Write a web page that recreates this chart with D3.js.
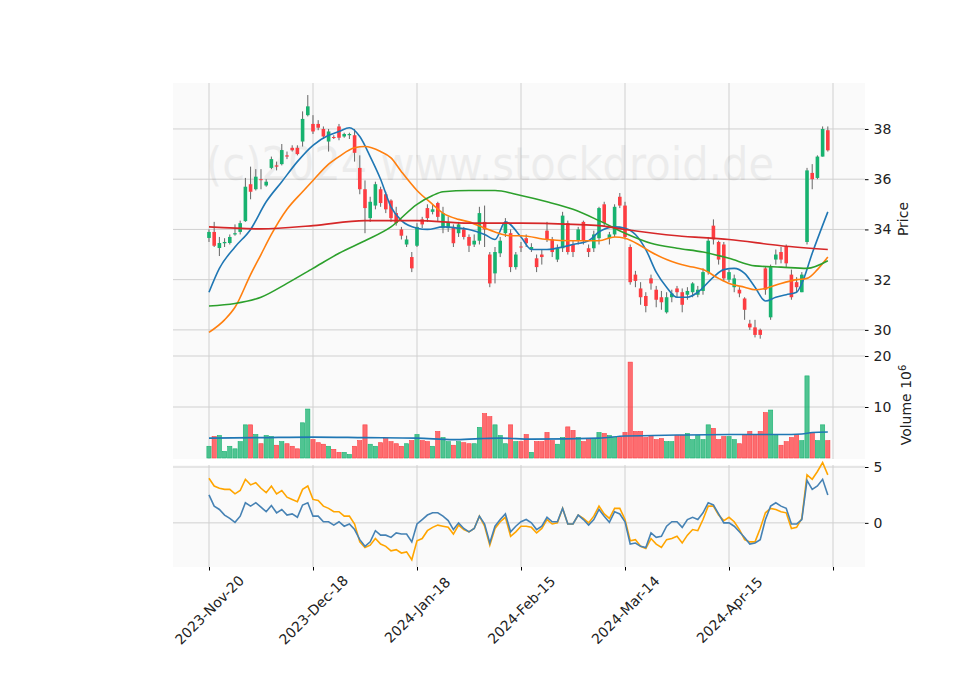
<!DOCTYPE html>
<html>
<head>
<meta charset="utf-8">
<script src="https://cdn.jsdelivr.net/npm/d3@7"></script>
<style>
  body { margin: 0; background: #fff; }
  text { font-family: "DejaVu Sans", sans-serif; }
</style>
</head>
<body>
<div id="chart"></div>
<script>
// tick labels (index -> date)
const tickIdx = [0, 20, 40, 60, 80, 100, 120];
const tickLabels = ['2023-Nov-20', '2023-Dec-18', '2024-Jan-18', '2024-Feb-15', '2024-Mar-14', '2024-Apr-15', ''];

// OHLC, one entry per trading day
const opens = [33.66,33.9,33.26,33.45,33.46,33.8,33.9,34.33,35.8,35.6,36.0,35.75,36.45,36.55,36.6,36.95,37.25,37.25,37.5,38.55,
  38.2,38.2,38.0,37.5,37.68,38.1,37.7,37.75,37.75,36.45,35.6,34.45,34.95,35.6,35.4,35.15,34.65,34.0,33.4,32.9,
  33.35,34.4,34.85,34.7,35.05,34.05,34.05,34.1,33.85,34.0,33.7,33.4,33.55,34.3,33.0,32.25,33.05,33.85,33.85,32.5,
  33.32,33.65,33.2,32.85,33.0,33.95,33.6,32.8,33.25,34.25,33.4,33.55,34.3,33.25,33.25,33.65,35.0,33.65,33.8,35.3,
  34.95,33.3,32.2,31.65,31.35,32.05,31.6,31.3,30.7,31.3,31.65,31.5,31.4,31.5,31.4,31.55,32.3,34.15,33.5,33.4,
  32.0,31.7,31.6,31.25,30.25,30.1,30.0,32.45,30.5,32.8,33.1,33.3,32.2,31.9,31.5,33.5,36.25,36.05,36.9,37.95];
const closes = [33.9,33.35,33.46,33.5,33.7,33.85,34.25,35.7,35.5,36.1,35.98,35.9,36.8,36.5,37.16,36.9,37.15,37.0,38.4,38.9,
  37.9,38.05,37.7,37.9,37.65,37.65,37.8,37.8,37.05,35.6,34.85,35.1,35.8,35.05,34.8,34.45,34.25,33.75,33.6,32.45,
  34.1,34.2,34.45,34.8,34.5,34.65,34.3,33.45,34.2,33.7,33.35,33.55,34.65,34.0,31.85,33.1,33.55,34.25,32.5,33.0,
  33.28,33.45,33.3,32.5,32.9,33.6,33.1,33.25,34.55,33.1,33.1,34.0,33.55,33.1,33.8,34.85,34.25,33.8,34.9,34.95,
  33.7,31.9,31.95,31.3,30.95,31.85,31.2,31.1,31.3,31.45,31.5,31.0,31.55,31.85,31.6,32.3,33.55,33.6,32.8,32.05,
  32.3,32.05,31.45,30.8,30.1,29.8,29.8,31.6,32.5,33.0,32.8,32.65,31.3,31.7,32.2,36.35,36.0,36.9,38.0,37.15];
const highs = [34.0,34.3,33.7,33.65,33.8,34.2,34.35,36.05,36.5,36.4,36.4,36.0,36.9,36.7,37.4,37.1,37.35,37.35,38.7,39.35,
  38.55,38.35,38.1,38.0,37.75,38.2,37.85,37.85,38.0,36.95,35.95,35.3,35.9,35.7,35.5,35.2,34.9,34.1,33.75,33.1,
  34.25,34.5,35.0,35.0,35.1,34.9,34.5,34.2,34.3,34.1,33.8,33.8,34.9,34.95,33.1,33.3,33.7,34.45,34.0,33.1,
  33.5,33.8,33.45,33.0,33.2,34.3,33.7,33.4,34.7,34.35,33.55,34.1,34.35,33.4,33.95,34.9,35.1,33.9,35.0,35.45,
  35.1,33.4,32.35,31.9,31.5,32.2,31.75,31.55,31.5,31.6,31.75,31.65,31.7,31.9,31.75,32.45,33.7,34.4,33.55,33.5,
  32.4,32.2,31.7,31.3,30.4,30.4,30.05,32.5,32.6,33.2,33.3,33.4,32.4,32.1,32.3,36.45,36.6,36.95,38.1,38.1];
const lows = [33.5,33.3,32.94,33.3,33.4,33.75,33.8,34.3,35.2,35.55,35.6,35.7,36.4,36.35,36.55,36.8,37.1,36.95,37.3,38.5,
  37.8,37.95,37.6,37.1,37.6,37.55,37.65,37.6,36.7,35.4,33.85,34.3,34.8,34.9,34.65,34.3,34.15,33.6,33.3,32.3,
  33.3,34.05,34.3,34.6,34.3,33.85,33.9,33.3,33.7,33.6,33.1,33.3,33.4,33.3,31.7,31.85,32.9,33.7,32.3,32.4,
  33.1,33.3,33.1,32.3,32.6,33.5,32.9,32.7,33.1,33.0,32.9,33.4,33.4,32.9,33.1,33.4,34.1,33.4,33.7,34.85,
  33.6,31.8,31.7,31.0,30.7,31.6,30.9,30.8,30.65,31.1,31.3,30.7,31.2,31.3,31.3,31.4,32.2,33.4,32.6,31.95,
  31.9,31.5,31.3,30.4,30.0,29.7,29.65,31.4,30.4,32.6,32.65,32.5,31.2,31.5,31.5,33.4,35.6,36.0,36.9,37.1];

// volume in millions
const volumes = [2.3,4.2,4.4,1.3,2.3,1.8,3.2,6.5,6.5,4.6,2.8,4.4,4.2,2.5,3.2,2.8,2.3,1.8,6.9,9.6,
  3.6,3.0,2.7,2.3,1.7,1.1,1.1,0.7,2.3,3.4,6.5,2.7,2.3,3.0,3.8,3.2,2.8,2.3,2.8,3.4,
  4.6,3.4,3.2,2.3,5.2,4.0,3.2,2.5,3.2,3.0,2.8,2.8,6.0,8.7,8.1,6.5,4.4,2.8,6.5,3.2,
  3.2,4.6,1.1,3.2,3.2,5.0,3.4,2.7,4.0,6.1,5.4,4.0,3.2,3.6,3.6,5.0,4.8,4.4,4.0,4.0,
  5.0,18.8,5.2,5.2,4.0,4.4,3.6,3.8,3.2,3.2,4.4,4.4,4.8,3.6,4.4,3.6,6.5,5.8,3.6,4.2,
  4.2,3.6,2.8,4.6,5.2,4.4,5.2,8.9,9.4,4.4,2.5,3.2,4.0,4.6,3.4,16.1,5.0,3.4,6.5,3.4];
const volMA = [[0,3.9],[10,4.0],[20,4.1],[30,4.0],[40,3.9],[47,3.6],[52,3.8],[56,3.9],[62,3.7],[75,3.9],[80,4.3],
  [90,4.5],[100,4.6],[110,4.6],[114,4.7],[116,5.0],[119,5.1]];

// moving averages, [index, value]
const maBlue = [[0,31.5],[2,32.45],[5,33.3],[8,34.0],[11,35.1],[14,35.9],[17,36.7],[20,37.35],[23,37.75],[25,37.9],[27,38.05],
  [29,37.7],[31,36.9],[33,36.0],[35,34.9],[37,34.35],[40,34.05],[42,34.0],[45,34.1],[48,34.05],[50,34.0],[53,33.8],[55,33.6],
  [57,34.3],[60,33.7],[62,33.2],[65,33.2],[68,33.3],[70,33.4],[73,33.55],[75,33.9],[78,34.1],[80,34.05],[82,33.8],[84,33.2],
  [86,32.3],[88,31.7],[90,31.3],[92,31.3],[94,31.5],[97,32.1],[99,32.4],[101,32.45],[103,32.25],[105,31.7],[107,31.15],
  [109,31.3],[111,31.4],[113,31.5],[114,31.85],[116,33.05],[119,34.7]];
const maOrange = [[0,29.9],[3,30.4],[5,30.9],[8,32.2],[10,33.0],[12,33.8],[15,34.8],[18,35.5],[20,35.95],[23,36.6],[25,36.9],
  [28,37.25],[30,37.3],[33,37.1],[35,36.85],[37,36.3],[40,35.55],[43,35.0],[45,34.65],[48,34.4],[50,34.3],[53,34.05],[55,33.9],
  [58,33.75],[60,33.75],[65,33.6],[70,33.55],[75,33.55],[78,33.7],[80,33.65],[83,33.35],[85,33.1],[88,32.8],[90,32.65],
  [93,32.5],[95,32.4],[98,32.05],[100,31.85],[103,31.7],[105,31.6],[107,31.65],[110,31.85],[113,32.0],[115,32.05],[117,32.4],[119,32.9]];
const maGreen = [[0,30.95],[5,31.05],[10,31.3],[15,31.85],[20,32.45],[25,33.05],[30,33.55],[35,34.1],[40,35.0],[43,35.35],
  [45,35.5],[50,35.55],[55,35.55],[60,35.35],[65,35.1],[70,34.8],[75,34.35],[80,33.85],[85,33.45],[90,33.25],[95,33.1],
  [100,32.85],[105,32.55],[110,32.5],[115,32.45],[119,32.75]];
const maRed = [[0,34.1],[10,34.02],[20,34.15],[30,34.35],[40,34.35],[50,34.25],[60,34.25],[70,34.2],[75,34.15],[80,34.0],
  [90,33.75],[100,33.6],[110,33.35],[119,33.2]];

// lower panel oscillators
const oscBlue = [2.5,1.5,1.2,0.7,0.4,0.05,0.6,1.8,1.5,1.8,1.4,1.0,1.55,0.9,1.2,0.7,0.8,0.5,1.6,1.8,
  0.6,0.6,0.1,0.1,-0.2,0.1,-0.3,-0.1,-0.6,-1.5,-2.1,-1.7,-0.7,-1.1,-1.1,-1.3,-0.9,-1.0,-1.0,-1.7,
  -0.1,0.3,0.7,0.9,0.9,0.6,0.2,-0.6,0.0,-0.5,-0.8,-0.5,0.6,-0.1,-1.8,-0.3,0.3,0.8,-0.8,-0.3,
  0.1,0.3,0.0,-0.6,-0.3,0.5,0.1,0.1,1.3,-0.1,-0.1,0.7,0.3,-0.2,0.3,1.2,0.6,0.05,1.0,0.8,
  0.1,-1.9,-1.8,-2.1,-2.2,-0.9,-1.3,-1.2,-0.3,0.1,0.1,-0.4,0.3,0.5,0.3,0.9,1.8,1.6,0.8,0.0,
  0.0,-0.3,-0.8,-1.3,-1.9,-1.8,-1.5,0.3,1.5,1.8,1.5,1.3,-0.1,-0.1,0.3,3.8,3.0,3.3,3.9,2.5];
const oscOrange = [4.0,3.3,3.1,3.0,3.0,2.6,2.9,3.9,3.4,3.6,3.1,2.7,3.3,2.6,2.9,2.3,2.1,1.9,3.0,3.3,
  2.1,2.0,1.5,1.3,1.0,1.0,0.6,0.6,-0.1,-1.7,-2.2,-2.0,-1.4,-1.9,-2.1,-2.5,-2.4,-2.7,-2.6,-3.3,
  -1.6,-1.4,-0.7,-0.4,-0.2,-0.3,-0.4,-1.0,-0.2,-0.6,-0.8,-0.5,0.6,-0.3,-2.0,-0.5,0.1,0.5,-1.2,-0.8,
  -0.3,-0.3,-0.4,-0.9,-0.5,0.3,-0.1,0.0,1.3,-0.1,-0.1,0.7,0.4,0.0,0.6,1.5,0.8,0.4,1.3,1.3,
  0.3,-1.6,-1.5,-2.1,-2.3,-1.4,-1.9,-2.2,-1.5,-1.4,-1.2,-1.8,-1.1,-0.6,-0.7,0.3,1.5,1.5,0.7,0.2,
  0.5,0.1,-0.6,-1.5,-1.7,-1.7,-0.5,0.9,1.3,1.2,1.0,0.9,-0.5,-0.4,0.4,4.3,3.9,4.6,5.4,4.3];

const W = 960, H = 690;
const left = 173, right = 865;
const UP = '#17b26f', DOWN = '#fd3d42';

const svg = d3.select('#chart').append('svg').attr('width', W).attr('height', H);

const x = d3.scaleLinear().domain([-6.92, 126.15]).range([left, right]);
const yP = d3.scaleLinear().domain([29.0, 39.83]).range([355, 83]);
const yV = d3.scaleLinear().domain([0, 20]).range([458, 356]);
const yO = d3.scaleLinear().domain([-3.95, 5.18]).range([567, 465]);

const panels = [
  { y: yP, top: 83, bottom: 355, ticks: [30, 32, 34, 36, 38] },
  { y: yV, top: 355, bottom: 459, ticks: [10, 20] },
  { y: yO, top: 465, bottom: 567, ticks: [0, 5] }
];

// backgrounds + grids
panels.forEach(p => {
  svg.append('rect').attr('x', left).attr('y', p.top).attr('width', right - left).attr('height', p.bottom - p.top)
    .style('fill', '#fafafa');
  svg.append('g').selectAll('line').data(tickIdx).enter().append('line')
    .attr('x1', d => x(d)).attr('x2', d => x(d)).attr('y1', p.top).attr('y2', p.bottom)
    .style('stroke', '#d0d0d0').style('stroke-width', 1);
  svg.append('g').selectAll('line').data(p.ticks).enter().append('line')
    .attr('x1', left).attr('x2', right).attr('y1', d => p.y(d)).attr('y2', d => p.y(d))
    .style('stroke', '#d0d0d0').style('stroke-width', 1);
  const ax = svg.append('g').attr('transform', `translate(${right},0)`)
    .call(d3.axisRight(p.y).tickValues(p.ticks).tickSize(3.5).tickPadding(5));
  ax.select('.domain').remove();
  ax.selectAll('text').style('font-size', '14px').style('fill', '#222');
});

// watermark
svg.append('text').attr('x', 490).attr('y', 180).attr('text-anchor', 'middle')
  .attr('textLength', 568).attr('lengthAdjust', 'spacingAndGlyphs')
  .style('font-size', '46px').style('fill', '#000').style('opacity', 0.05)
  .text('(c)2024 www.stockdroid.de');

const idx = d3.range(closes.length);
const col = i => closes[i] >= opens[i] ? UP : DOWN;

// candles
svg.append('g').selectAll('line').data(idx).enter().append('line')
  .attr('x1', i => x(i)).attr('x2', i => x(i))
  .attr('y1', i => yP(highs[i])).attr('y2', i => yP(lows[i]))
  .style('stroke', '#666').style('stroke-width', 1);
svg.append('g').selectAll('rect').data(idx).enter().append('rect')
  .attr('x', i => x(i) - 1.8).attr('width', 3.6)
  .attr('y', i => yP(Math.max(opens[i], closes[i])))
  .attr('height', i => Math.max(1, Math.abs(yP(opens[i]) - yP(closes[i]))))
  .style('fill', col);

// moving averages
const maLine = d3.line().x(d => x(d[0])).y(d => yP(d[1])).curve(d3.curveMonotoneX);
[[maBlue, '#1f77b4'], [maOrange, '#ff7f0e'], [maGreen, '#2ca02c'], [maRed, '#d62728']].forEach(([d, c]) => {
  svg.append('path').datum(d).attr('d', maLine)
    .style('fill', 'none').style('stroke', c).style('stroke-width', 1.6);
});

// volume
svg.append('g').selectAll('rect').data(idx).enter().append('rect')
  .attr('x', i => x(i) - 2.1).attr('width', 4.2)
  .attr('y', i => yV(volumes[i])).attr('height', i => yV(0) - yV(volumes[i]))
  .style('fill', col).style('fill-opacity', 0.75).style('stroke', col).style('stroke-width', 0.6);
svg.append('path').datum(volMA)
  .attr('d', d3.line().x(d => x(d[0])).y(d => yV(d[1])).curve(d3.curveMonotoneX))
  .style('fill', 'none').style('stroke', '#1f77b4').style('stroke-width', 1.6);

// oscillators
[[oscOrange, '#ffa500'], [oscBlue, '#4682b4']].forEach(([d, c]) => {
  svg.append('path').datum(d)
    .attr('d', d3.line().x((v, i) => x(i)).y(v => yO(v)))
    .style('fill', 'none').style('stroke', c).style('stroke-width', 1.6);
});

// x axis
const xa = svg.append('g').attr('transform', 'translate(0,567)')
  .call(d3.axisBottom(x).tickValues(tickIdx).tickSize(3.5).tickFormat((d, i) => tickLabels[i]));
xa.select('.domain').remove();
xa.selectAll('text').style('font-size', '14px').style('fill', '#222')
  .attr('text-anchor', 'middle').attr('x', 0).attr('y', 0).attr('dy', '0.35em')
  .attr('transform', 'translate(0,43) rotate(-45)');

// y labels
svg.append('text').attr('transform', 'translate(908,219) rotate(-90)').attr('text-anchor', 'middle')
  .style('font-size', '14px').style('fill', '#222').text('Price');
const vl = svg.append('text').attr('transform', 'translate(911,405) rotate(-90)').attr('text-anchor', 'middle')
  .style('font-size', '14px').style('fill', '#222');
vl.append('tspan').text('Volume  10');
vl.append('tspan').attr('dy', '-0.5em').style('font-size', '10px').text('6');
</script>
</body>
</html>
